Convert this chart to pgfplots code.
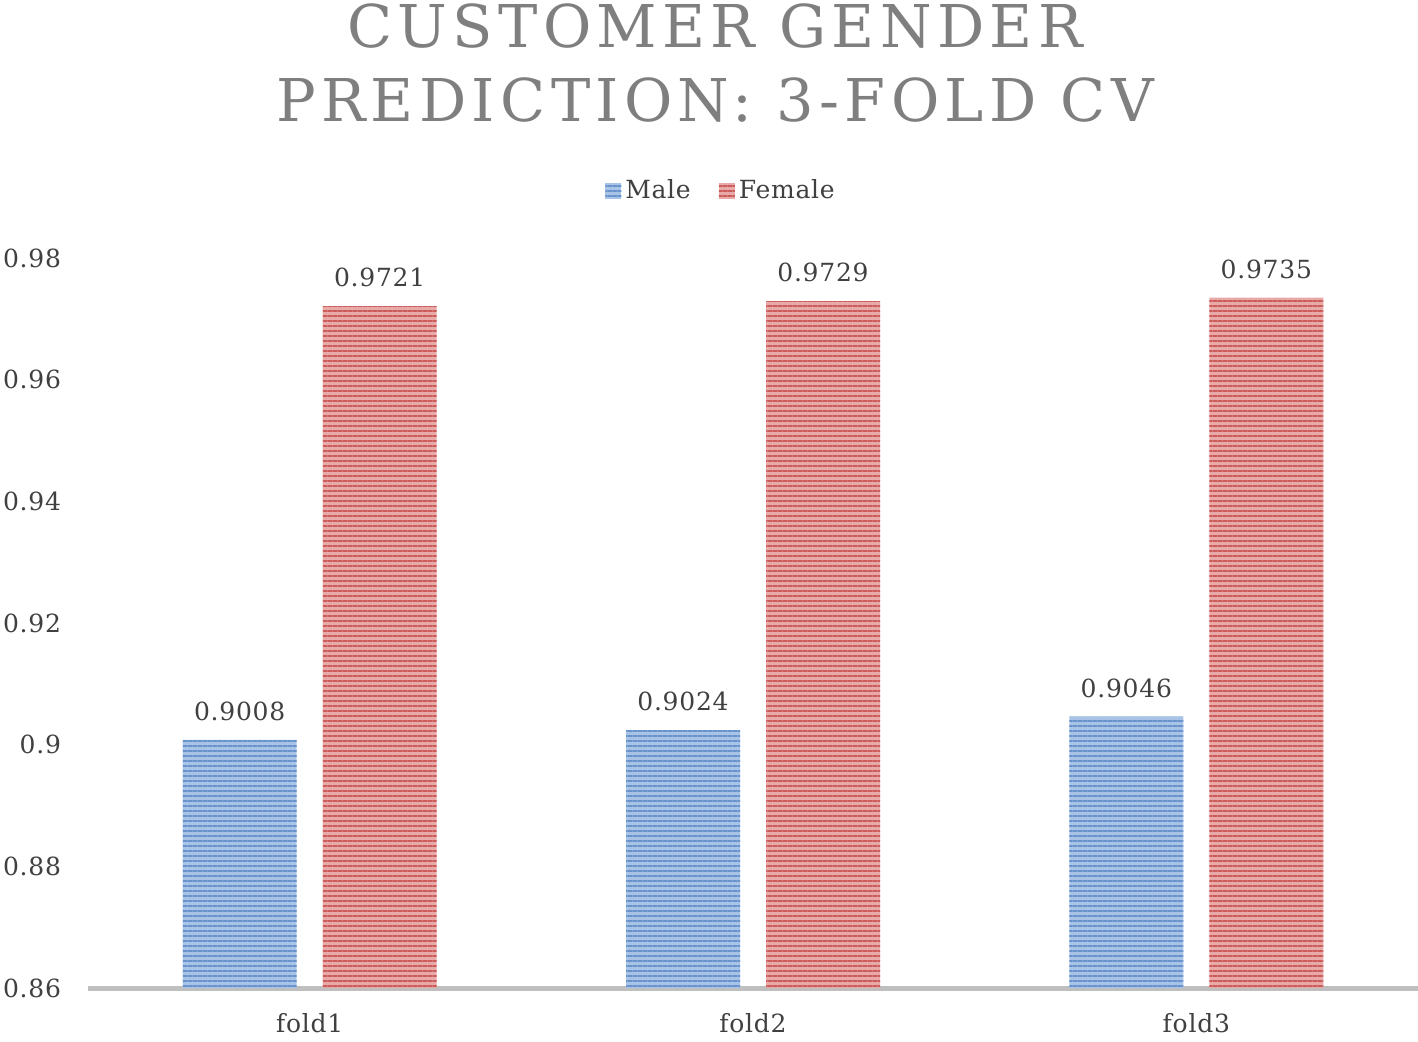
\documentclass[border=0pt]{standalone}
\usepackage{fontspec}
\setmainfont{DejaVu Serif}
\newfontfamily\titlefont[LetterSpace=9]{DejaVu Serif}
\newfontfamily\lblfont[LetterSpace=3]{DejaVu Serif}
\usepackage{pgfplots}
\pgfplotsset{compat=1.18}
\usetikzlibrary{patterns.meta}
\definecolor{mblue}{HTML}{6792CC}
\definecolor{mbluel}{HTML}{A9C3E6}
\definecolor{fred}{HTML}{CC5C59}
\definecolor{fredl}{HTML}{E8AAA8}
\definecolor{txt}{HTML}{404040}
\definecolor{ttl}{HTML}{7F7F7F}
\definecolor{axl}{HTML}{BFBFBF}
\begin{document}
\begin{tikzpicture}
\begin{axis}[
  at={(0,0)}, anchor=south west,
  scale only axis, width=665pt, height=365pt,
  xmin=-0.5, xmax=2.5, ymin=0.86, ymax=0.98,
  xtick={0,1,2}, xticklabels={fold1,fold2,fold3},
  ytick={0.86,0.88,...,0.981},
  axis x line*=bottom, axis y line*=left,
  x axis line style={draw=axl, line width=2.5pt},
  y axis line style={draw=none},
  axis line style={-},
  major tick length=0pt,
  ybar, bar width=57pt,
  /pgf/number format/assume math mode=true,
  ticklabel style={font=\lblfont\fontsize{12.5}{15}\selectfont, text=txt},
  yticklabel style={/pgf/number format/fixed, /pgf/number format/precision=2, xshift=-10pt},
  xticklabel style={yshift=-9pt},
  nodes near coords,
  nodes near coords style={font=\lblfont\fontsize{12.5}{15}\selectfont, text=txt, /pgf/number format/fixed, /pgf/number format/precision=4, /pgf/number format/assume math mode=true, yshift=6pt},
  legend style={at={(317pt,398.5pt)}, anchor=center, draw=none, legend columns=2, font=\lblfont\fontsize{12.5}{15}\selectfont, text=txt,
    /tikz/every even column/.append style={column sep=12pt}},
  legend image code/.code={\fill[#1] (0pt,-4pt) rectangle (8pt,4pt);},
  clip=false,
]
\addplot[bar shift=-35pt, draw=none, fill=mbluel, postaction={pattern={Lines[angle=0,distance=2.5pt,line width=1.2pt]}, pattern color=mblue}]
  coordinates {(0,0.9008) (1,0.9024) (2,0.9046)};
\addplot[bar shift=35pt, draw=none, fill=fredl, postaction={pattern={Lines[angle=0,distance=2.5pt,line width=1.2pt]}, pattern color=fred}]
  coordinates {(0,0.9721) (1,0.9729) (2,0.9735)};
\legend{Male,Female}
\end{axis}
\node[anchor=base, text=ttl, font=\titlefont\fontsize{29.5}{34}\selectfont] at (313.5pt,470pt) {CUSTOMER GENDER};
\node[anchor=base, text=ttl, font=\titlefont\fontsize{29.5}{34}\selectfont] at (313.5pt,433pt) {PREDICTION: 3-FOLD CV};
\pgfresetboundingbox
\useasboundingbox (-44pt,-26.5pt) rectangle (665pt,494pt);
\end{tikzpicture}
\end{document}
